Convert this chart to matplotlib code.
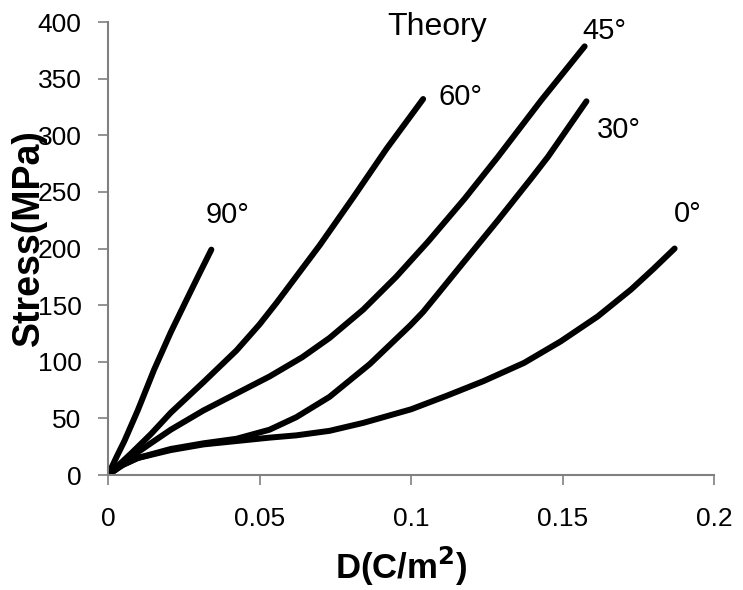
import matplotlib
matplotlib.use("Agg")
import matplotlib.pyplot as plt

plt.rcParams["font.family"] = ["Liberation Sans", "DejaVu Sans"]

# --- dados (D em C/m2, tensao em MPa) ---
d_0 = [0, 0.004, 0.0098, 0.0207, 0.0315, 0.0424, 0.0533, 0.0621, 0.0731,
       0.0842, 0.1, 0.1118, 0.124, 0.1373, 0.1494, 0.1616, 0.1727, 0.18, 0.187]
s_0 = [0, 8, 15, 22, 27, 30, 33, 35, 39,
       46, 58, 70, 83, 99, 118, 140, 164, 182, 200]

d_30 = [0, 0.005, 0.0098, 0.0207, 0.0315, 0.0424, 0.0533, 0.0621, 0.0731,
        0.0864, 0.0997, 0.104, 0.1095, 0.1177, 0.1287, 0.1397, 0.1452, 0.1579]
s_30 = [0, 9, 15, 23, 28, 32, 40, 51, 69,
        98, 132, 144, 162, 189, 225, 262, 281, 330]

d_45 = [0, 0.0076, 0.0141, 0.0207, 0.0315, 0.0424, 0.0533, 0.0641, 0.0731,
        0.0842, 0.0951, 0.1056, 0.1177, 0.1287, 0.143, 0.1573]
s_45 = [0, 16, 28, 40, 57, 72, 87, 104, 121,
        146, 175, 206, 244, 281, 331, 378.5]

d_60 = [0, 0.0076, 0.0141, 0.0207, 0.0315, 0.0424, 0.05, 0.0556, 0.0699,
        0.0809, 0.0919, 0.104]
s_60 = [0, 19, 36, 55, 82, 110, 133, 152, 203,
        245, 288, 332]

d_90 = [0, 0.003, 0.0054, 0.0098, 0.0152, 0.0207, 0.0256, 0.03, 0.0341]
s_90 = [0, 17, 30, 57, 93, 126, 153, 177, 199]

curvas = [(d_0, s_0), (d_30, s_30), (d_45, s_45), (d_60, s_60), (d_90, s_90)]

rotulos = ["0°", "30°", "45°", "60°", "90°"]
rot_x = [0.1913, 0.1685, 0.1638, 0.1163, 0.0396]
rot_y = [230.5, 304.4, 391.7, 334.0, 229.5]

x_ticks = [0, 0.05, 0.1, 0.15, 0.2]
x_labels = ["0", "0.05", "0.1", "0.15", "0.2"]
y_ticks = [0, 50, 100, 150, 200, 250, 300, 350, 400]

fig = plt.figure(figsize=(7.43, 5.90), dpi=100)
ax = fig.add_axes([0.1454, 0.1949, 0.8156, 0.7678])

for d, s in curvas:
    ax.plot(d, s, color="black", lw=4.3, solid_capstyle="round",
            solid_joinstyle="round")

for txt, x, y in zip(rotulos, rot_x, rot_y):
    ax.text(x, y, txt, fontsize=21, ha="center", va="center")

ax.text(0.1086, 395.6, "Theory", fontsize=23, ha="center", va="center")

ax.set_xlim(0, 0.2)
ax.set_ylim(0, 400)
ax.set_xticks(x_ticks)
ax.set_xticklabels(x_labels)
ax.set_yticks(y_ticks)
ax.tick_params(axis="both", labelsize=19, direction="out", length=7,
               width=1.2, color="#808080")
ax.tick_params(axis="y", pad=12)
ax.tick_params(axis="x", pad=16)

for lado in ["top", "right"]:
    ax.spines[lado].set_visible(False)
for lado in ["left", "bottom"]:
    ax.spines[lado].set_color("#808080")
    ax.spines[lado].set_linewidth(1.5)

ax.set_xlabel("D(C/m$^\\mathbf{2}$)", fontsize=25, fontweight="bold")
ax.set_ylabel("Stress(MPa)", fontsize=27, fontweight="bold")
ax.xaxis.set_label_coords(0.4835, -0.155)
ax.yaxis.set_label_coords(-0.10, 0.525)

fig.savefig("out.png", dpi=100)
